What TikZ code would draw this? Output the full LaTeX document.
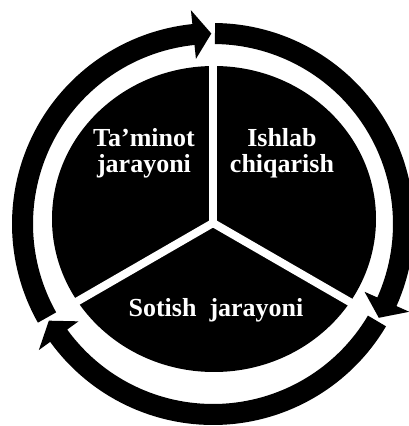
\documentclass[tikz,border=0pt]{standalone}
\usepackage{fontspec}
\setmainfont{Liberation Serif}
\usetikzlibrary{positioning}
\tikzset{pics/cyclearrow/.style={code={
  % shaft from the tail, then a short broad head, turning clockwise
  \fill[black] (#1:201) arc[start angle=#1, end angle=#1-113.5, radius=201]
    -- (#1-113.5:215) -- (#1-118.9:190.5) -- (#1-113.5:166) -- (#1-113.5:180)
    arc[start angle=#1-113.5, end angle=#1, radius=180] -- cycle;
}},pics/cyclearrow/.default=90,
  stagetext/.style={text=white,font=\fontsize{19.5}{19.5}\selectfont\bfseries,
    align=center,inner sep=0pt,anchor=base}}

\begin{document}
\begin{tikzpicture}[x=0.75pt,y=0.75pt]
        \useasboundingbox (0,0) rectangle (409,426);
        \clip (0,0) rectangle (409,426);
        \coordinate (ringc) at (213,202);
        \coordinate (hub) at (213,203);
        \foreach \t in {89.4,-30.6,209.4}
          \pic at (ringc) {cyclearrow=\t};
        \fill[black] (214,207) ellipse[x radius=162, y radius=153];
        \foreach \a in {90,210,330}
          \draw[white,line width=6pt] (hub) -- ++(\a:170);
        \node[stagetext] (supply) at (144,253) {Ta’minot\\jarayoni};
        \node[stagetext] (make) at (282,253) {Ishlab\\chiqarish};
        \node[stagetext] (sale) at (216,109) {Sotish\ \ jarayoni};
      \end{tikzpicture}
\end{document}
